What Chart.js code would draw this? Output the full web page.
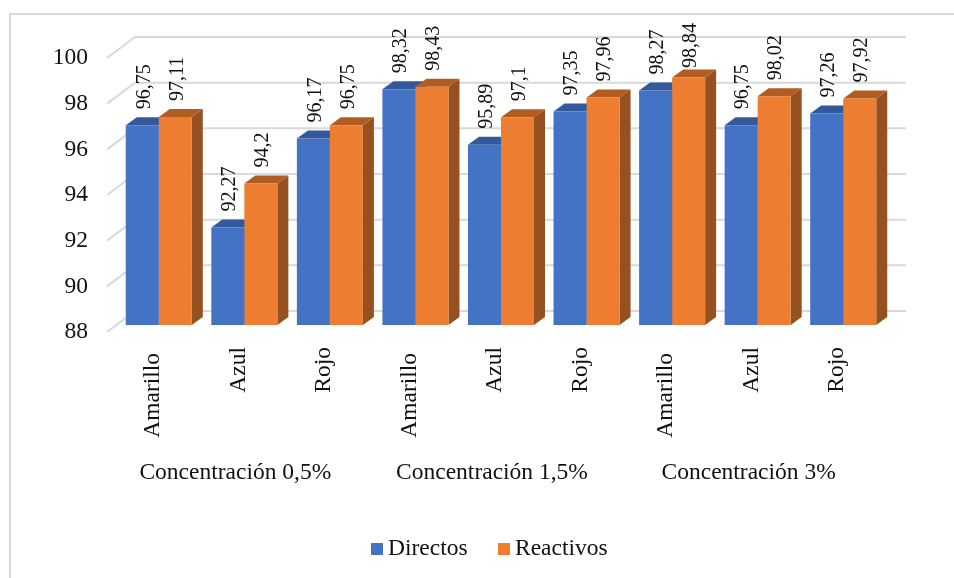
<!DOCTYPE html>
<html>
<head>
<meta charset="utf-8">
<title>Directos y Reactivos</title>
<script src="https://cdn.jsdelivr.net/npm/chart.js@4/dist/chart.umd.js"></script>
<style>
  html, body { margin: 0; padding: 0; background: #fff; }
  #wrap { width: 954px; height: 578px; }
</style>
</head>
<body>
<div id="wrap"><canvas id="myChart" width="954" height="578"></canvas></div>
<script>
const categories = ["Amarillo", "Azul", "Rojo", "Amarillo", "Azul", "Rojo", "Amarillo", "Azul", "Rojo"];
const groups = ["Concentración 0,5%", "Concentración 1,5%", "Concentración 3%"];
const directos = [96.75, 92.27, 96.17, 98.32, 95.89, 97.35, 98.27, 96.75, 97.26];
const reactivos = [97.11, 94.2, 96.75, 98.43, 97.1, 97.96, 98.84, 98.02, 97.92];
const yTicks = [88, 90, 92, 94, 96, 98, 100];

const SERIF = "'Liberation Serif', 'Times New Roman', serif";
const GRID = "#d9d9d9";
const TEXT = "#111111";

// top and side colours of the extruded bars
const shades = [
  { top: "#34599a", side: "#2f5597" },
  { top: "#b15d22", side: "#955120" },
];

// frame around the chart, open on the right and at the bottom
const framePlugin = {
  id: "frame",
  beforeDraw(chart) {
    const { ctx } = chart;
    ctx.save();
    ctx.strokeStyle = GRID;
    ctx.lineWidth = 2;
    ctx.beginPath();
    ctx.moveTo(10, 578);
    ctx.lineTo(10, 14);
    ctx.lineTo(954, 14);
    ctx.stroke();
    ctx.restore();
  },
};

// back wall lines and the slanted floor ticks
const wallPlugin = {
  id: "wall",
  beforeDatasetsDraw(chart) {
    const { ctx, scales } = chart;
    const left = chart.chartArea.left;
    const right = chart.chartArea.right;
    ctx.save();
    ctx.strokeStyle = GRID;
    ctx.lineWidth = 2;
    yTicks.forEach((t) => {
      const y = scales.y.getPixelForValue(t);
      ctx.beginPath();
      ctx.moveTo(left - 9, y + 7);
      ctx.lineTo(left + 19, y - 14);
      ctx.lineTo(right + 20, y - 14);
      ctx.stroke();
    });
    ctx.restore();
  },
};

// the depth of each bar goes behind the normal front rectangles
const depthPlugin = {
  id: "depth",
  beforeDatasetsDraw(chart) {
    const { ctx } = chart;
    const dx = 11;
    const dy = 8;
    ctx.save();
    chart.data.datasets.forEach((ds, i) => {
      chart.getDatasetMeta(i).data.forEach((bar) => {
        const l = bar.x - bar.width / 2;
        const r = bar.x + bar.width / 2;
        ctx.fillStyle = shades[i].side;
        ctx.beginPath();
        ctx.moveTo(r, bar.y);
        ctx.lineTo(r + dx, bar.y - dy);
        ctx.lineTo(r + dx, bar.base - dy);
        ctx.lineTo(r, bar.base);
        ctx.closePath();
        ctx.fill();
        ctx.fillStyle = shades[i].top;
        ctx.beginPath();
        ctx.moveTo(l, bar.y);
        ctx.lineTo(l + dx, bar.y - dy);
        ctx.lineTo(r + dx, bar.y - dy);
        ctx.lineTo(r, bar.y);
        ctx.closePath();
        ctx.fill();
      });
    });
    ctx.restore();
  },
};

// vertical value labels with a decimal comma, kept under the top limit
const valuePlugin = {
  id: "values",
  afterDatasetsDraw(chart) {
    const { ctx } = chart;
    const topLimit = 23;
    ctx.save();
    ctx.font = "20px " + SERIF;
    ctx.fillStyle = TEXT;
    ctx.textAlign = "left";
    ctx.textBaseline = "middle";
    chart.data.datasets.forEach((ds, i) => {
      chart.getDatasetMeta(i).data.forEach((bar, j) => {
        const text = String(ds.data[j]).replace(".", ",");
        const start = Math.max(bar.y - 16, topLimit + ctx.measureText(text).width);
        ctx.save();
        ctx.translate(bar.x + 2, start);
        ctx.rotate(-Math.PI / 2);
        ctx.fillText(text, 0, 0);
        ctx.restore();
      });
    });
    ctx.restore();
  },
};

const legendPlugin = {
  id: "bottomLegend",
  afterDraw(chart) {
    const { ctx } = chart;
    const spots = [371, 498];
    ctx.save();
    ctx.font = "23.5px " + SERIF;
    ctx.textAlign = "left";
    ctx.textBaseline = "middle";
    chart.data.datasets.forEach((ds, i) => {
      ctx.fillStyle = ds.backgroundColor;
      ctx.fillRect(spots[i], 543, 12, 12);
      ctx.fillStyle = TEXT;
      ctx.fillText(ds.label, spots[i] + 17, 549);
    });
    ctx.restore();
  },
};

new Chart(document.getElementById("myChart"), {
  type: "bar",
  data: {
    labels: categories,
    datasets: [
      { label: "Directos", data: directos, base: 88, backgroundColor: "#4472c4", barPercentage: 1, categoryPercentage: 0.772 },
      { label: "Reactivos", data: reactivos, base: 88, backgroundColor: "#ed7d31", barPercentage: 1, categoryPercentage: 0.772 },
    ],
  },
  options: {
    responsive: false,
    animation: false,
    layout: { padding: { top: 51, right: 68, left: 0, bottom: 0 } },
    plugins: { legend: { display: false }, tooltip: { enabled: false } },
    scales: {
      y: {
        min: 88,
        max: 100,
        afterFit: (s) => { s.width = 116; },
        afterBuildTicks: (s) => { s.ticks = yTicks.map((v) => ({ value: v })); },
        border: { display: false },
        grid: { display: false, drawTicks: false },
        ticks: {
          padding: 28,
          labelOffset: 7,
          color: TEXT,
          font: { family: SERIF, size: 23.5 },
        },
      },
      x: {
        weight: 0,
        afterFit: (s) => { s.height = 125; },
        border: { display: false },
        grid: { display: false, drawTicks: false },
        ticks: {
          minRotation: 90,
          maxRotation: 90,
          autoSkip: false,
          padding: 22,
          labelOffset: -6,
          color: TEXT,
          font: { family: SERIF, size: 23.5 },
          // the longer word sits a little further from the axis
          callback: (v, i) => (categories[i] === "Amarillo" ? categories[i] + "\u00a0" : categories[i]),
        },
      },
      x2: {
        type: "category",
        labels: groups,
        position: "bottom",
        weight: 1,
        afterFit: (s) => { s.height = 128; },
        border: { display: false },
        grid: { display: false, drawTicks: false },
        ticks: {
          maxRotation: 0,
          minRotation: 0,
          autoSkip: false,
          padding: 9,
          labelOffset: -9,
          color: TEXT,
          font: { family: SERIF, size: 23.5 },
        },
      },
    },
  },
  plugins: [framePlugin, wallPlugin, depthPlugin, valuePlugin, legendPlugin],
});
</script>
</body>
</html>
